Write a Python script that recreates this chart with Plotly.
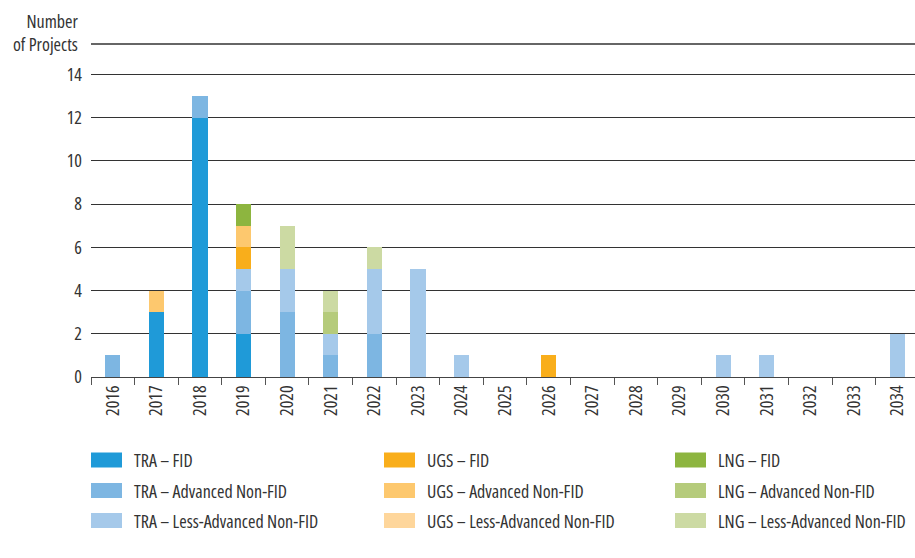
import plotly.graph_objects as go

years = [str(y) for y in range(2016, 2035)]

# number of projects per year, by category and status
tra_fid = [0, 3, 12, 2, 0, 0, 0, 0, 0, 0, 0, 0, 0, 0, 0, 0, 0, 0, 0]
tra_adv = [1, 0, 1, 2, 3, 1, 2, 0, 0, 0, 0, 0, 0, 0, 0, 0, 0, 0, 0]
tra_less = [0, 0, 0, 1, 2, 1, 3, 5, 1, 0, 0, 0, 0, 0, 1, 1, 0, 0, 2]
ugs_fid = [0, 0, 0, 1, 0, 0, 0, 0, 0, 0, 1, 0, 0, 0, 0, 0, 0, 0, 0]
ugs_adv = [0, 1, 0, 1, 0, 0, 0, 0, 0, 0, 0, 0, 0, 0, 0, 0, 0, 0, 0]
ugs_less = [0] * 19
lng_fid = [0, 0, 0, 1, 0, 0, 0, 0, 0, 0, 0, 0, 0, 0, 0, 0, 0, 0, 0]
lng_adv = [0, 0, 0, 0, 0, 1, 0, 0, 0, 0, 0, 0, 0, 0, 0, 0, 0, 0, 0]
lng_less = [0, 0, 0, 0, 2, 1, 1, 0, 0, 0, 0, 0, 0, 0, 0, 0, 0, 0, 0]

y_ticks = [0, 2, 4, 6, 8, 10, 12, 14]

series = [
    ("TRA – FID", tra_fid, "#1f9ad8"),
    ("TRA – Advanced Non-FID", tra_adv, "#7db6e2"),
    ("TRA – Less-Advanced Non-FID", tra_less, "#a5c9ea"),
    ("UGS – FID", ugs_fid, "#f9ae1b"),
    ("UGS – Advanced Non-FID", ugs_adv, "#fdc86e"),
    ("UGS – Less-Advanced Non-FID", ugs_less, "#fed69b"),
    ("LNG – FID", lng_fid, "#8db53f"),
    ("LNG – Advanced Non-FID", lng_adv, "#b5cb7b"),
    ("LNG – Less-Advanced Non-FID", lng_less, "#ccdaa3"),
]

FONT = "Open Sans, Roboto, sans-serif"
TEXT = "#333333"
SIZE = 18
W, H = 915, 558

fig = go.Figure()
for name, vals, color in series:
    fig.add_trace(go.Bar(
        x=years, y=vals, name=name,
        marker=dict(color=color, line=dict(width=0)),
        showlegend=False,
    ))

# manual legend: three columns (TRA, UGS, LNG), rows by status
shapes = []
annotations = []
col_x = [91, 384, 675]
row_y = [460, 490.5, 520.5]
for i, (name, vals, color) in enumerate(series):
    cx = col_x[i // 3]
    cy = row_y[i % 3]
    shapes.append(dict(
        type="rect", xref="paper", yref="paper",
        x0=(cx - 91) / 824, x1=(cx + 31 - 91) / 824,
        y0=(377 - (cy + 7.5)) / 333, y1=(377 - (cy - 7.5)) / 333,
        fillcolor=color, line=dict(width=0),
    ))
    annotations.append(dict(
        text=name, xref="paper", yref="paper",
        x=(cx + 41 - 91) / 824, y=(377 - cy) / 333,
        xanchor="left", yanchor="middle", align="left", showarrow=False,
        font=dict(size=SIZE, color=TEXT, family=FONT),
    ))

# top frame line and y-axis title
shapes.append(dict(type="line", xref="paper", yref="paper", x0=0, x1=1, y0=1, y1=1,
                   line=dict(color="#333333", width=1.3)))
annotations.append(dict(
    text="Number<br>of Projects", xref="paper", yref="paper",
    x=0, y=1, xshift=-11, yshift=12, xanchor="right", yanchor="middle",
    align="right", showarrow=False,
    font=dict(size=SIZE, color=TEXT, family=FONT),
))

fig.update_layout(
    barmode="stack",
    bargap=0.655,
    width=W, height=H,
    margin=dict(l=91, r=0, t=44, b=181),
    plot_bgcolor="white",
    paper_bgcolor="white",
    font=dict(family=FONT, size=SIZE, color=TEXT),
    shapes=shapes,
    annotations=annotations,
)

fig.update_xaxes(
    type="category",
    range=[-0.5, 18.4],
    tickangle=-90,
    ticks="outside", tickson="boundaries", ticklen=7, tickcolor="#555555", tickwidth=1.3,
    showline=True, linecolor="#444444", linewidth=1.3,
    showgrid=False,
    tickfont=dict(size=SIZE, color=TEXT),
)
fig.update_yaxes(
    range=[0, 15.4],
    tickvals=y_ticks,
    showgrid=True, gridcolor="#333333", gridwidth=1.3,
    zeroline=False, showline=False,
    ticklabelstandoff=8,
    tickfont=dict(size=SIZE, color=TEXT),
)

# no page margin, and a condensed face for all text
post = (
    "document.body.style.margin='0';"
    "document.querySelectorAll('.main-svg text').forEach(function(t){t.style.fontStretch='80%';});"
)
fig.write_html("out.html", post_script=post, config={"displayModeBar": False})
